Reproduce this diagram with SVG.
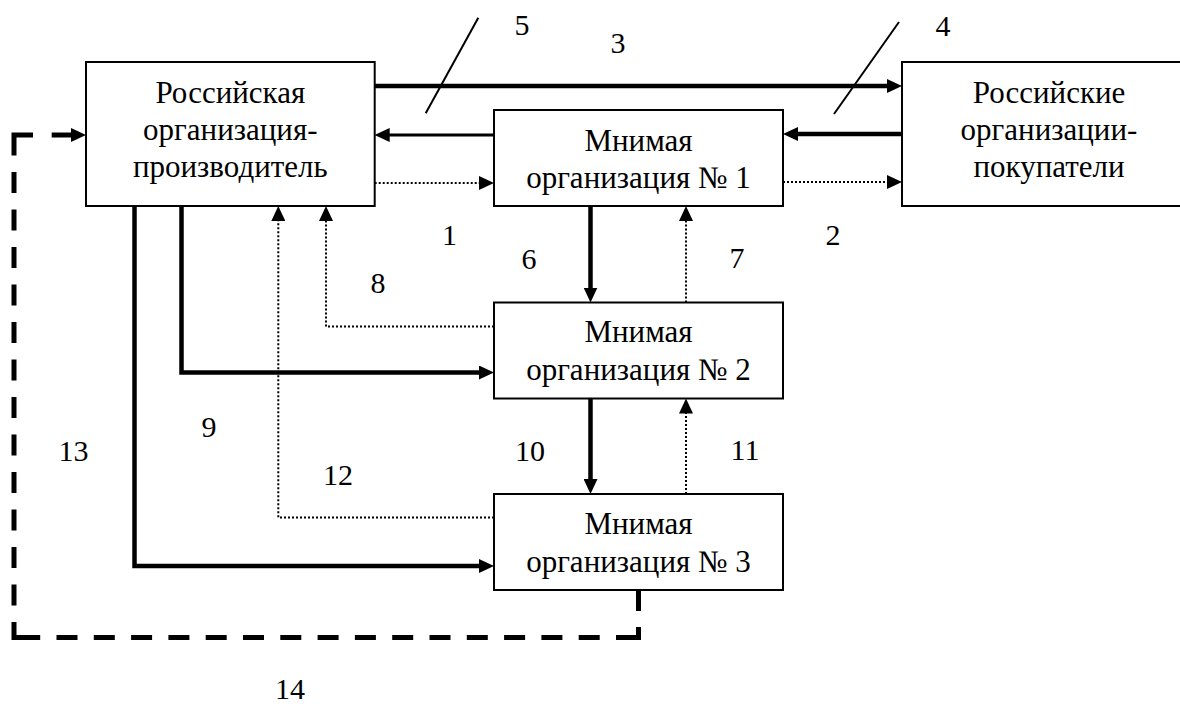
<svg xmlns="http://www.w3.org/2000/svg" width="1180" height="704" viewBox="0 0 1180 704">
<style>
.box{fill:#fff;stroke:#000;stroke-width:2}
.thick{fill:none;stroke:#000;stroke-width:4.5}
.med{fill:none;stroke:#000;stroke-width:3}
.dot{fill:none;stroke:#000;stroke-width:2;stroke-dasharray:2 2}
.dash{fill:none;stroke:#000;stroke-width:5}
.thin{fill:none;stroke:#000;stroke-width:2}
</style>
<defs>
<marker id="ah" viewBox="0 0 15 14" markerWidth="15" markerHeight="14" refX="7" refY="7" orient="auto" markerUnits="userSpaceOnUse"><path d="M0,0 L15,7 L0,14 z" fill="#000"/></marker>
</defs>
<rect width="1180" height="704" fill="#fff"/>

<g id="connectors">
<path class="thick" d="M374.7,86 H894" marker-end="url(#ah)"/>
<path class="thick" d="M902,134 H791" marker-end="url(#ah)"/>
<path class="med" d="M494,135 H382.7" marker-end="url(#ah)"/>
<path class="dot" d="M374.7,183 H486" marker-end="url(#ah)"/>
<path class="dot" d="M783,182 H894" marker-end="url(#ah)"/>
<path class="thick" d="M590.5,206 V294.5" marker-end="url(#ah)"/>
<path class="dot" d="M686,302.5 V214" marker-end="url(#ah)"/>
<path class="thick" d="M590.5,398.5 V486" marker-end="url(#ah)"/>
<path class="dot" d="M686,494 V406.5" marker-end="url(#ah)"/>
<path class="thick" d="M181.5,206 V372.5 H486" marker-end="url(#ah)"/>
<path class="thick" d="M134.5,206 V566 H486" marker-end="url(#ah)"/>
<path class="dot" d="M494,326.5 H326 V214" marker-end="url(#ah)"/>
<path class="dot" d="M494,517.5 H278.3 V214" marker-end="url(#ah)"/>
<path class="dash" d="M638.5,590 V611"/>
<path class="dash" d="M638.5,627 V637.5 H616"/>
<path class="dash" d="M616,637.5 H40" stroke-dasharray="21 16.3" stroke-dashoffset="21"/>
<path class="dash" d="M40,637.5 H14 V622"/>
<path class="dash" d="M14,622 V155" stroke-dasharray="21 16.5" stroke-dashoffset="21"/>
<path class="dash" d="M14,155 V135 H33"/>
<path class="dash" d="M51.7,135 H78" marker-end="url(#ah)"/>
<path class="thin" d="M425.7,113.3 L478.3,17.7"/>
<path class="thin" d="M834,114 L899,22"/>
</g>

<g font-size="31" text-anchor="middle">
<g id="node-producer">
<rect class="box" x="86" y="62" width="288.7" height="144"/>
<text font-family="Liberation Serif" x="230.3" y="102.7">Российская</text>
<text font-family="Liberation Serif" x="230.3" y="139.7">организация-</text>
<text font-family="Liberation Serif" x="230.3" y="176.7">производитель</text>
</g>
<g id="node-buyers">
<rect class="box" x="902" y="62" width="294" height="144"/>
<text font-family="Liberation Serif" x="1049" y="102.7">Российские</text>
<text font-family="Liberation Serif" x="1049" y="139.7">организации-</text>
<text font-family="Liberation Serif" x="1049" y="176.7">покупатели</text>
</g>
<g id="node-m1">
<rect class="box" x="494" y="110" width="289" height="96"/>
<text font-family="Liberation Serif" x="638.5" y="150.7">Мнимая</text>
<text font-family="Liberation Serif" x="638.5" y="188.3">организация № 1</text>
</g>
<g id="node-m2">
<rect class="box" x="494" y="302.5" width="289" height="96"/>
<text font-family="Liberation Serif" x="638.5" y="342.3">Мнимая</text>
<text font-family="Liberation Serif" x="638.5" y="379.5">организация № 2</text>
</g>
<g id="node-m3">
<rect class="box" x="494" y="494" width="289" height="96"/>
<text font-family="Liberation Serif" x="638.5" y="534">Мнимая</text>
<text font-family="Liberation Serif" x="638.5" y="571.5">организация № 3</text>
</g>
</g>

<g id="labels" font-size="30" text-anchor="middle">
<text font-family="Liberation Serif" x="522" y="35">5</text>
<text font-family="Liberation Serif" x="618" y="53">3</text>
<text font-family="Liberation Serif" x="943" y="36">4</text>
<text font-family="Liberation Serif" x="449.5" y="245">1</text>
<text font-family="Liberation Serif" x="833" y="245">2</text>
<text font-family="Liberation Serif" x="529" y="269">6</text>
<text font-family="Liberation Serif" x="737" y="268">7</text>
<text font-family="Liberation Serif" x="378" y="293">8</text>
<text font-family="Liberation Serif" x="209" y="437">9</text>
<text font-family="Liberation Serif" x="73.5" y="461">13</text>
<text font-family="Liberation Serif" x="530" y="461">10</text>
<text font-family="Liberation Serif" x="745" y="460">11</text>
<text font-family="Liberation Serif" x="338" y="485">12</text>
<text font-family="Liberation Serif" x="290" y="699">14</text>
</g>
</svg>
